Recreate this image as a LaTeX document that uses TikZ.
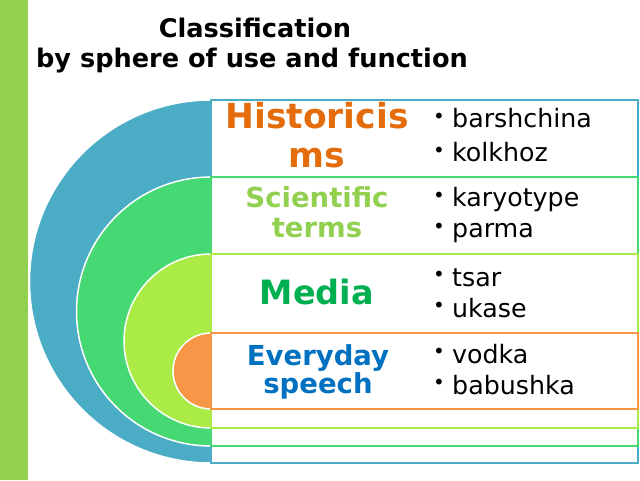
\documentclass[tikz,border=0pt]{standalone}
\usepackage{fontspec}
\setmainfont{DejaVu Sans}
\definecolor{barGreen}{HTML}{92D050}
\definecolor{ringBlue}{HTML}{4BACC6}
\definecolor{ringGreen}{HTML}{46D873}
\definecolor{ringLime}{HTML}{ABEB46}
\definecolor{ringOrange}{HTML}{F79646}
\definecolor{txtOrange}{HTML}{E46C0A}
\definecolor{txtLime}{HTML}{92D050}
\definecolor{txtGreen}{HTML}{00B050}
\definecolor{txtBlue}{HTML}{0070C0}
\newcommand{\bul}{\makebox[19pt][l]{\raisebox{4.5pt}{\fontsize{20}{20}\selectfont •}}}

\begin{document}
\begin{tikzpicture}[x=1pt, y=1pt,
    half/.style={fill=#1, draw=white, line width=1.5pt},
    band/.style={draw=#1, line width=1.6pt, fill=white},
    lbl/.style={font=\bfseries\fontsize{#1}{#1}\selectfont, anchor=base, inner sep=0pt},
    itm/.style={font=\fontsize{25.3}{25.3}\selectfont, anchor=base west, inner sep=0pt},
    ttl/.style={font=\bfseries\fontsize{25.6}{25.6}\selectfont, anchor=base, inner sep=0pt}]

        \useasboundingbox (0,0) rectangle (640,480);
        \fill[barGreen] (0,0) rectangle (28,480);

        % title
        \node[ttl] (title1) at (255,442) {Classification};
        \node[ttl] (title2) at (252,412) {by sphere of use and function};

        % rings and bands, outer first
        \filldraw[half=ringBlue] (211,380) arc[start angle=90, end angle=270, radius=181.5] -- cycle;
        \draw[band=ringBlue] (211,380) rectangle (638,17);
        \filldraw[half=ringGreen] (211,303) arc[start angle=90, end angle=270, radius=134.5] -- cycle;
        \draw[band=ringGreen] (211,303) rectangle (638,34);
        \filldraw[half=ringLime] (211,226) arc[start angle=90, end angle=270, radius=87] -- cycle;
        \draw[band=ringLime] (211,226) rectangle (638,52);
        \filldraw[half=ringOrange] (211,147) arc[start angle=90, end angle=270, radius=38] -- cycle;
        \draw[band=ringOrange] (211,147) rectangle (638,71);

        % labels
        \node[lbl=34.5, txtOrange] (hist1) at (317,351) {Historicis};
        \node[lbl=34.5, txtOrange] (hist2) at (317,312) {ms};
        \node[lbl=27.5, txtLime] (sci1) at (317,272) {Scientific};
        \node[lbl=27.5, txtLime] (sci2) at (317,242) {terms};
        \node[lbl=33.5, txtGreen] (media) at (317,176) {Media};
        \node[lbl=27.5, txtBlue] (every1) at (318,115) {Everyday};
        \node[lbl=27.5, txtBlue] (every2) at (318,87) {speech};

        % items
        \node[itm] (barshchina) at (433,352) {\bul barshchina};
        \node[itm] (kolkhoz) at (433,318) {\bul kolkhoz};
        \node[itm] (karyotype) at (433,273) {\bul karyotype};
        \node[itm] (parma) at (433,242) {\bul parma};
        \node[itm] (tsar) at (433,194) {\bul tsar};
        \node[itm] (ukase) at (433,163) {\bul ukase};
        \node[itm] (vodka) at (433,117) {\bul vodka};
        \node[itm] (babushka) at (433,86) {\bul babushka};
\end{tikzpicture}
\end{document}
